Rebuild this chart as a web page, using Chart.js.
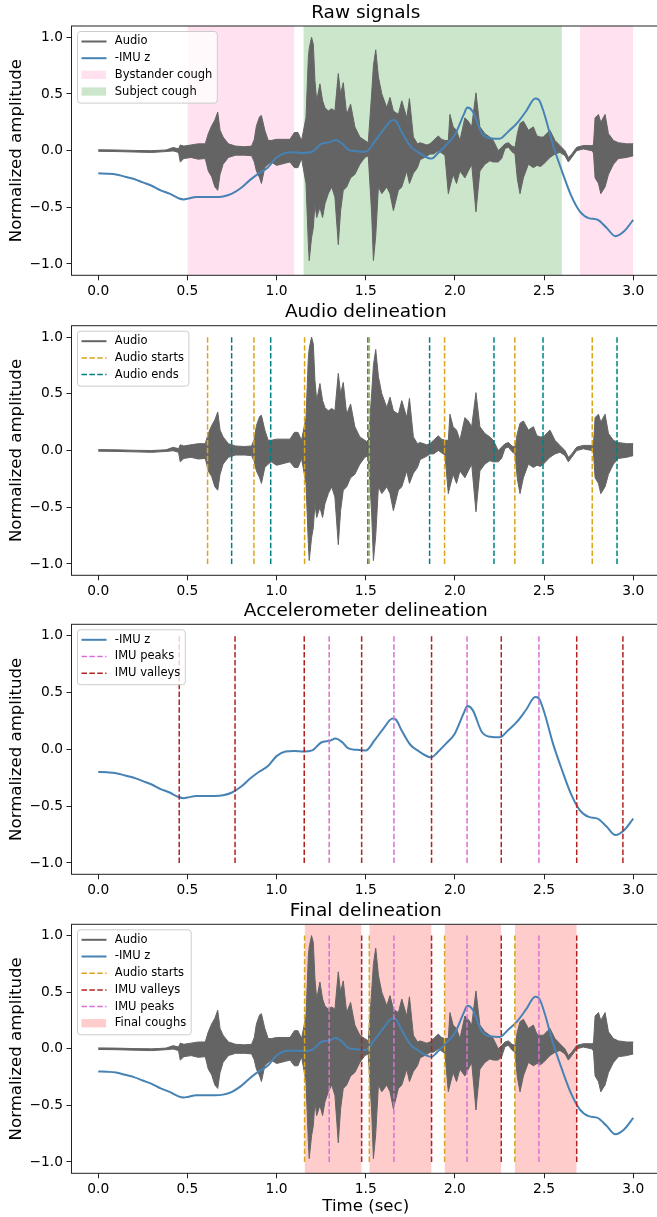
<!DOCTYPE html>
<html>
<head>
<meta charset="utf-8">
<script src="https://cdn.jsdelivr.net/npm/chart.js@4.4.0/dist/chart.umd.min.js"></script>
<style>
  html, body { margin: 0; padding: 0; background: #fff; overflow: hidden; }
  #wrap { position: relative; width: 657px; height: 1217px; overflow: hidden; }
  #wrap canvas { position: absolute; left: 0; }
</style>
</head>
<body>
<div id="wrap">
  <canvas id="c1" width="661" height="300" style="top:0px"></canvas>
  <canvas id="c2" width="661" height="300" style="top:300px"></canvas>
  <canvas id="c3" width="661" height="300" style="top:600px"></canvas>
  <canvas id="c4" width="661" height="317" style="top:900px"></canvas>
</div>
<script>
// audio envelope (upper / lower edge of the waveform)
var audioT = [0.00, 0.10, 0.20, 0.30, 0.38, 0.42, 0.45, 0.46, 0.48, 0.52,
  0.56, 0.60, 0.617, 0.636, 0.654, 0.67, 0.683, 0.70, 0.73, 0.77,
  0.82, 0.86, 0.875, 0.887, 0.905, 0.915, 0.934, 0.953, 0.97, 1.00,
  1.05, 1.075, 1.10, 1.12, 1.14, 1.165, 1.178, 1.183, 1.196, 1.206,
  1.215, 1.225, 1.243, 1.258, 1.271, 1.29, 1.309, 1.327, 1.346, 1.359,
  1.374, 1.393, 1.415, 1.439, 1.467, 1.495, 1.514, 1.533, 1.543, 1.556,
  1.571, 1.59, 1.618, 1.636, 1.655, 1.683, 1.702, 1.73, 1.745, 1.767,
  1.79, 1.805, 1.842, 1.86, 1.88, 1.907, 1.925, 1.944, 1.963, 1.972,
  1.99, 2.009, 2.028, 2.056, 2.075, 2.094, 2.118, 2.14, 2.168, 2.196,
  2.215, 2.243, 2.262, 2.281, 2.30, 2.32, 2.337, 2.35, 2.365, 2.384,
  2.412, 2.44, 2.46, 2.48, 2.496, 2.533, 2.561, 2.589, 2.617, 2.636,
  2.655, 2.683, 2.72, 2.767, 2.777, 2.786, 2.805, 2.818, 2.842, 2.861,
  2.889, 2.917, 2.963, 3.00];
var audioHi = [0.008, 0.006, 0.002, 0.000, 0.006, 0.028, 0.016, 0.050, 0.040, 0.050,
  0.060, 0.060, 0.150, 0.220, 0.270, 0.340, 0.180, 0.120, 0.060, 0.040,
  0.035, 0.040, 0.100, 0.220, 0.300, 0.310, 0.180, 0.090, 0.090, 0.100,
  0.100, 0.100, 0.160, 0.160, 0.090, 0.290, 0.820, 0.900, 1.000, 0.940,
  0.620, 0.440, 0.590, 0.440, 0.380, 0.350, 0.370, 0.350, 0.680, 0.500,
  0.600, 0.320, 0.410, 0.210, 0.120, 0.090, 0.070, 0.500, 0.750, 0.890,
  0.650, 0.500, 0.380, 0.470, 0.350, 0.320, 0.440, 0.290, 0.460, 0.120,
  0.060, 0.070, 0.050, 0.060, 0.090, 0.130, 0.100, 0.090, 0.090, 0.320,
  0.210, 0.180, 0.090, 0.290, 0.260, 0.210, 0.510, 0.210, 0.150, 0.120,
  0.090, 0.000, 0.030, 0.060, 0.070, 0.040, 0.030, 0.150, 0.240, 0.260,
  0.180, 0.210, 0.130, 0.120, 0.120, 0.180, 0.090, 0.045, 0.000, -0.060,
  -0.030, 0.030, 0.045, 0.045, 0.050, 0.290, 0.320, 0.250, 0.320, 0.150,
  0.090, 0.070, 0.060, 0.060];
var audioLo = [-0.006, -0.008, -0.012, -0.016, -0.008, -0.002, -0.016, -0.100, -0.070, -0.060,
  -0.075, -0.070, -0.180, -0.230, -0.320, -0.350, -0.210, -0.120, -0.060, -0.040,
  -0.040, -0.045, -0.100, -0.180, -0.240, -0.290, -0.150, -0.120, -0.100, -0.130,
  -0.110, -0.100, -0.150, -0.150, -0.070, -0.290, -0.820, -0.970, -0.770, -0.680,
  -0.470, -0.590, -0.500, -0.590, -0.470, -0.380, -0.320, -0.410, -0.830, -0.530,
  -0.350, -0.320, -0.240, -0.210, -0.120, -0.060, -0.045, -0.550, -0.970, -0.750,
  -0.320, -0.380, -0.320, -0.380, -0.530, -0.350, -0.320, -0.180, -0.290, -0.200,
  -0.150, -0.080, -0.050, -0.030, -0.030, 0.000, -0.020, -0.040, -0.380, -0.320,
  -0.210, -0.290, -0.180, -0.240, -0.180, -0.120, -0.540, -0.180, -0.120, -0.090,
  -0.100, -0.100, -0.070, 0.020, 0.030, -0.010, -0.030, -0.250, -0.380, -0.240,
  -0.120, -0.150, -0.130, -0.140, -0.120, -0.060, -0.030, -0.015, -0.045, -0.100,
  -0.060, 0.000, 0.015, 0.000, -0.020, -0.240, -0.290, -0.380, -0.320, -0.210,
  -0.120, -0.070, -0.060, -0.045];

// -IMU z
var imuT = [0, 0.05, 0.1, 0.15, 0.2, 0.25, 0.3, 0.35, 0.4, 0.45,
  0.48, 0.5, 0.55, 0.6, 0.65, 0.7, 0.75, 0.8, 0.85, 0.9,
  0.95, 1.0, 1.05, 1.1, 1.15, 1.2, 1.25, 1.3, 1.33, 1.37,
  1.4, 1.45, 1.5, 1.55, 1.6, 1.65, 1.67, 1.7, 1.75, 1.8,
  1.85, 1.87, 1.9, 1.95, 2.0, 2.05, 2.07, 2.1, 2.15, 2.2,
  2.25, 2.3, 2.35, 2.4, 2.45, 2.47, 2.5, 2.55, 2.6, 2.65,
  2.7, 2.75, 2.8, 2.85, 2.9, 2.95, 3.0];
var imuZ = [-0.20, -0.203, -0.21, -0.23, -0.25, -0.28, -0.31, -0.35, -0.38, -0.42,
  -0.43, -0.425, -0.41, -0.41, -0.41, -0.405, -0.38, -0.33, -0.26, -0.20,
  -0.15, -0.06, -0.02, -0.015, -0.02, -0.01, 0.06, 0.075, 0.095, 0.06,
  0.01, -0.005, -0.01, 0.08, 0.185, 0.27, 0.26, 0.17, 0.04, -0.02,
  -0.065, -0.07, -0.03, 0.05, 0.14, 0.32, 0.38, 0.345, 0.155, 0.11,
  0.105, 0.17, 0.245, 0.35, 0.46, 0.45, 0.33, 0.05, -0.18, -0.39,
  -0.535, -0.595, -0.61, -0.68, -0.755, -0.71, -0.61];

// shaded spans and event markers (sec)
var bystanderSpans = [[0.5, 1.1], [2.7, 3.0]];
var subjectSpans = [[1.15, 2.6]];
var audioStarts = [0.613, 0.873, 1.157, 1.52, 1.942, 2.336, 2.77];
var audioEnds = [0.748, 0.967, 1.512, 1.858, 2.219, 2.494, 2.909];
var imuPeaks = [1.295, 1.658, 2.068, 2.471];
var imuValleys = [0.454, 0.767, 1.155, 1.477, 1.869, 2.26, 2.683, 2.942];
var finalStarts = [1.157, 1.52, 1.942, 2.336];
var finalEnds = [1.477, 1.869, 2.26, 2.683];

var xTicks = [0, 0.5, 1.0, 1.5, 2.0, 2.5, 3.0];
var yTicks = [-1.0, -0.5, 0.0, 0.5, 1.0];

var FONT = 'DejaVu Sans';
var GRAY = '#646464';
var BLUE = '#4682b4';
var GOLD = '#daa520';
var TEAL = '#008080';
var ORCHID = '#da70d6';
var FIREBRICK = '#b22222';
var PINK = 'rgba(255,105,180,0.2)';
var GREEN = 'rgba(0,128,0,0.2)';
var RED = 'rgba(255,0,0,0.2)';

function audioSets() {
    return [{
        label: 'Audio', data: audioT.map((t, i) => ({ x: t, y: audioHi[i] })),
        borderColor: GRAY, backgroundColor: GRAY, borderWidth: 1, fill: '+1',
        pointRadius: 0, tension: 0, order: 6
    }, {
        label: 'Audio lo', data: audioT.map((t, i) => ({ x: t, y: audioLo[i] })),
        borderColor: GRAY, borderWidth: 1, fill: false,
        pointRadius: 0, tension: 0, order: 6
    }];
}

function imuSet() {
    return {
        label: '-IMU z', data: imuT.map((t, i) => ({ x: t, y: imuZ[i] })),
        borderColor: BLUE, borderWidth: 2, fill: false, pointRadius: 0,
        cubicInterpolationMode: 'monotone', order: 5
    };
}

// dashed vertical lines from -1 to 1, gaps between them
function vlineSet(label, xs, color) {
    var d = [];
    xs.forEach(x => { d.push({ x: x, y: -1 }, { x: x, y: 1 }, { x: x, y: null }); });
    return {
        label: label, data: d, borderColor: color, borderWidth: 1.5,
        borderDash: [5.5, 2.4], fill: false, pointRadius: 0, spanGaps: false, order: 3
    };
}

// axvspan-like shaded bands
function spanSets(label, spans, color) {
    return spans.map(s => ({
        label: label, data: [{ x: s[0], y: 1.1 }, { x: s[1], y: 1.1 }],
        borderWidth: 0, backgroundColor: color, fill: 'start', pointRadius: 0, order: 10
    }));
}

// frame, title over the axes and a matplotlib style legend
var mplPlugin = {
    id: 'mpl',
    afterDraw(chart, args, opts) {
        var ctx = chart.ctx, a = chart.chartArea;
        ctx.save();
        ctx.strokeStyle = '#222';
        ctx.lineWidth = 1;
        ctx.strokeRect(a.left, a.top, a.right - a.left, a.bottom - a.top);

        ctx.fillStyle = '#000';
        ctx.font = '18.5px "' + FONT + '"';
        ctx.textAlign = 'center';
        ctx.textBaseline = 'middle';
        ctx.fillText(opts.title, (a.left + a.right) / 2, opts.titleY);

        var items = opts.items || [];
        ctx.font = '11.5px "' + FONT + '"';
        var tw = Math.max(...items.map(it => ctx.measureText(it.label).width));
        var x0 = a.left + 6, y0 = a.top + 5.5;
        var w = 37.3 + tw + 5, h = 10 + (items.length - 1) * 16.7 + 11.5, r = 3;
        ctx.beginPath();
        ctx.moveTo(x0 + r, y0);
        ctx.arcTo(x0 + w, y0, x0 + w, y0 + h, r);
        ctx.arcTo(x0 + w, y0 + h, x0, y0 + h, r);
        ctx.arcTo(x0, y0 + h, x0, y0, r);
        ctx.arcTo(x0, y0, x0 + w, y0, r);
        ctx.closePath();
        ctx.fillStyle = 'rgba(255,255,255,0.8)';
        ctx.fill();
        ctx.strokeStyle = '#cccccc';
        ctx.stroke();

        items.forEach((it, i) => {
            var y = y0 + 10 + i * 16.7;
            if (it.type === 'patch') {
                ctx.fillStyle = it.color;
                ctx.fillRect(x0 + 4, y - 4.2, 24.5, 8.3);
            } else {
                ctx.beginPath();
                ctx.setLineDash(it.type === 'dash' ? [5.5, 2.4] : []);
                ctx.strokeStyle = it.color;
                ctx.lineWidth = it.type === 'dash' ? 1.5 : 2;
                ctx.moveTo(x0 + 4, y);
                ctx.lineTo(x0 + 29, y);
                ctx.stroke();
                ctx.setLineDash([]);
            }
            ctx.fillStyle = '#000';
            ctx.textBaseline = 'middle';
            ctx.textAlign = 'left';
            ctx.fillText(it.label, x0 + 37.3, y);
        });
        ctx.restore();
    }
};

function makeChart(id, p) {
    return new Chart(document.getElementById(id), {
        type: 'line',
        data: { datasets: p.datasets },
        options: {
            responsive: false,
            animation: false,
            devicePixelRatio: 1,
            layout: { padding: { left: 0, right: 1, top: p.areaTop, bottom: 0 } },
            plugins: {
                legend: { display: false },
                tooltip: { enabled: false },
                title: { display: false },
                mpl: { items: p.legend, title: p.title, titleY: p.titleY }
            },
            scales: {
                x: {
                    type: 'linear', min: -0.15, max: 3.15,
                    afterBuildTicks: s => { s.ticks = xTicks.map(v => ({ value: v })); },
                    afterFit: s => { s.height = p.xHeight; },
                    ticks: {
                        font: { family: FONT, size: 13.8 }, color: '#000', padding: 3,
                        maxRotation: 0, autoSkip: false, callback: v => v.toFixed(1)
                    },
                    grid: { drawOnChartArea: false, tickLength: 5, color: '#222' },
                    border: { display: false },
                    title: {
                        display: !!p.xTitle, text: p.xTitle || '', color: '#000',
                        font: { family: FONT, size: 16.6 }, padding: { top: 0, bottom: 0 }
                    }
                },
                y: {
                    type: 'linear', min: -1.1, max: 1.1,
                    afterBuildTicks: s => { s.ticks = yTicks.map(v => ({ value: v })); },
                    afterFit: s => { s.width = 71.5; },
                    ticks: {
                        font: { family: FONT, size: 13.8 }, color: '#000', padding: 3.5,
                        callback: v => (v < 0 ? '\u2212' : '') + Math.abs(v).toFixed(1)
                    },
                    grid: { drawOnChartArea: false, tickLength: 5, color: '#222' },
                    border: { display: false },
                    title: {
                        display: true, text: 'Normalized amplitude', color: '#000',
                        font: { family: FONT, size: 16.6 }, padding: { top: 7, bottom: 0 }
                    }
                }
            }
        },
        plugins: [mplPlugin]
    });
}

// Raw signals
makeChart('c1', {
    title: 'Raw signals', titleY: 12.7, areaTop: 26, xHeight: 24.7,
    datasets: [].concat(audioSets(), [imuSet()],
        spanSets('Bystander cough', bystanderSpans, PINK),
        spanSets('Subject cough', subjectSpans, GREEN)),
    legend: [
        { label: 'Audio', type: 'line', color: GRAY },
        { label: '-IMU z', type: 'line', color: BLUE },
        { label: 'Bystander cough', type: 'patch', color: PINK },
        { label: 'Subject cough', type: 'patch', color: GREEN }
    ]
});

// Audio delineation
makeChart('c2', {
    title: 'Audio delineation', titleY: 12, areaTop: 25.7, xHeight: 24.7,
    datasets: [].concat(audioSets(), [vlineSet('Audio starts', audioStarts, GOLD),
        vlineSet('Audio ends', audioEnds, TEAL)]),
    legend: [
        { label: 'Audio', type: 'line', color: GRAY },
        { label: 'Audio starts', type: 'dash', color: GOLD },
        { label: 'Audio ends', type: 'dash', color: TEAL }
    ]
});

// Accelerometer delineation
makeChart('c3', {
    title: 'Accelerometer delineation', titleY: 11, areaTop: 24.3, xHeight: 25.7,
    datasets: [imuSet(), vlineSet('IMU peaks', imuPeaks, ORCHID),
        vlineSet('IMU valleys', imuValleys, FIREBRICK)],
    legend: [
        { label: '-IMU z', type: 'line', color: BLUE },
        { label: 'IMU peaks', type: 'dash', color: ORCHID },
        { label: 'IMU valleys', type: 'dash', color: FIREBRICK }
    ]
});

// Final delineation
makeChart('c4', {
    title: 'Final delineation', titleY: 10.7, areaTop: 24.3, xHeight: 43.7, xTitle: 'Time (sec)',
    datasets: [].concat(audioSets(), [imuSet(),
        vlineSet('Audio starts', finalStarts, GOLD),
        vlineSet('IMU valleys', finalEnds, FIREBRICK),
        vlineSet('IMU peaks', imuPeaks, ORCHID)],
        spanSets('Final coughs', finalStarts.map((s, i) => [s, finalEnds[i]]), RED)),
    legend: [
        { label: 'Audio', type: 'line', color: GRAY },
        { label: '-IMU z', type: 'line', color: BLUE },
        { label: 'Audio starts', type: 'dash', color: GOLD },
        { label: 'IMU valleys', type: 'dash', color: FIREBRICK },
        { label: 'IMU peaks', type: 'dash', color: ORCHID },
        { label: 'Final coughs', type: 'patch', color: RED }
    ]
});
</script>
</body>
</html>
